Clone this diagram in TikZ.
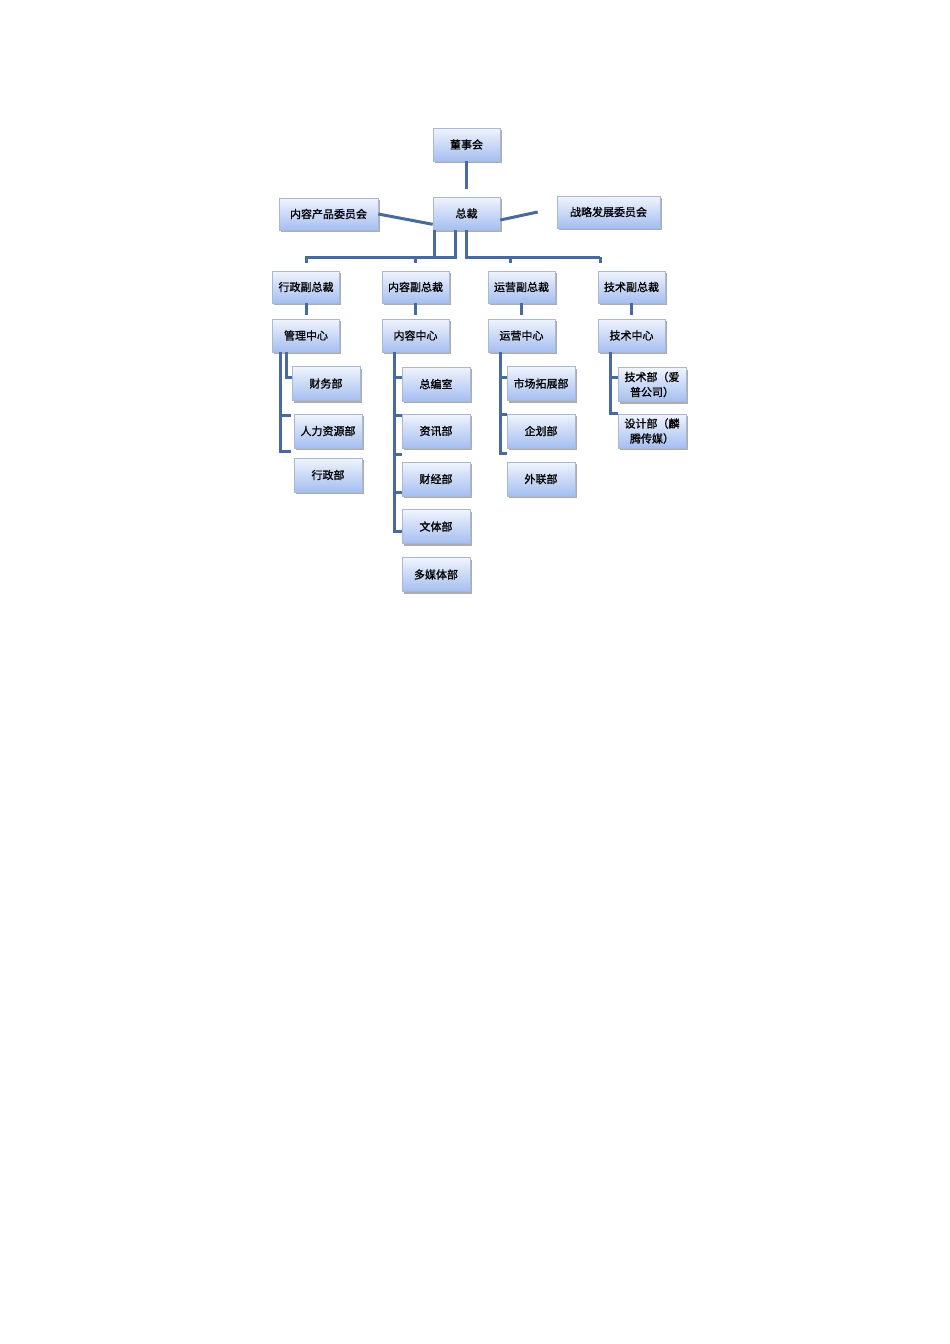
\documentclass[tikz,border=0pt]{standalone}
\usepackage{fontspec}
\setmainfont{Noto Sans CJK SC}[BoldFont=Noto Sans CJK SC, BoldFeatures={FakeBold=1.2}]
\usetikzlibrary{shadows}
\definecolor{boxtop}{RGB}{240,244,253}
\definecolor{boxbottom}{RGB}{165,190,240}
\definecolor{boxline}{RGB}{170,185,210}
\definecolor{linkblue}{RGB}{72,106,156}
\begin{document}
\begin{tikzpicture}[x=1pt,y=-1pt,
	box/.style={draw=boxline, line width=0.6pt, top color=boxtop, bottom color=boxbottom,
		minimum width=67pt, minimum height=33pt, inner sep=1pt, align=center,
		font=\fontsize{11}{15}\selectfont\bfseries,
		drop shadow={shadow xshift=1.5pt, shadow yshift=-2pt, fill=black!40, opacity=.8}},
	link/.style={draw=linkblue, line width=3pt}]
	\useasboundingbox (0,0) rectangle (950,1344);

	\node[box] (dsh) at (466.5,144.5){董事会};
	\node[box] (zc) at (466.5,213.5){总裁};
	\node[box, minimum width=99pt, minimum height=32pt] (nrwh) at (328.5,214){内容产品委员会};
	\node[box, minimum width=103pt, minimum height=32pt] (zlwh) at (608.5,212){战略发展委员会};

	\draw[link, shorten >=8pt] (dsh) -- (zc);
	\draw[link] (nrwh.east) -- ([yshift=6pt]zc.south west);
	\draw[link] ([yshift=-6.5pt]zc.east) -- ([xshift=-19pt]zlwh.west);

	\coordinate (busl) at (305,257);
	\coordinate (busr) at (600,257);
	\draw[link] ([xshift=-32pt]zc.south) |- (busl);
	\draw[link] ([xshift=-11pt]zc.south) |- (busl);
	\draw[link] (zc.south) |- (busr);

	\foreach \vp/\ct/\x/\vptext/\cttext in {vpxz/glzx/306/行政副总裁/管理中心,vpnr/nrzx/415.5/内容副总裁/内容中心,vpyy/yyzx/521.5/运营副总裁/运营中心,vpjs/jszx/631.5/技术副总裁/技术中心}
	{
		\node[box, minimum height=32pt] (\vp) at (\x,287){\vptext};
		\node[box] (\ct) at (\x,335.5){\cttext};
		\draw[link, shorten >=4pt] (\vp) -- (\ct);
	}
	\foreach \vp/\s in {vpxz/0,vpnr/0,vpyy/-11,vpjs/-31}
	{
		\draw[link] ([xshift=\s pt]\vp.north |- busl) -- ++(0,6);
	}

	\foreach \sub/\x/\y/\subtext in {gl1/326/383.5/财务部,gl2/328/431/人力资源部,gl3/328/475/行政部,
		nr1/436/384/总编室,nr2/436/431/资讯部,nr3/436/479/财经部,nr4/436/526.5/文体部,nr5/436/574.5/多媒体部,
		yy1/541/383.5/市场拓展部,yy2/541/431/企划部,yy3/541/479/外联部,
		js1/652/384.5/{技术部（爱\\普公司）},js2/652/431/{设计部（麟\\腾传媒）}}
	{
		\node[box, minimum width=68pt, minimum height=34pt] (\sub) at (\x,\y){\subtext};
	}

	\foreach \ct/\s/\sub/\dx/\dy in {glzx/-20/gl1/0/6,glzx/-26/gl2/-3/16,glzx/-26/gl3/-3/24,
		nrzx/-21.5/nr1/0/7,nrzx/-21.5/nr2/0/16,nrzx/-21.5/nr3/0/25,nrzx/-21.5/nr4/0/34.5,nrzx/-21.5/nr5/0/43.5,
		yyzx/-21.5/yy1/0/6.5,yyzx/-21.5/yy2/0/17,yyzx/-21.5/yy3/0/26,
		jszx/-21.5/js1/0/7.5,jszx/-21.5/js2/0/18}
	{
		\draw[link] ([xshift=\s pt]\ct.south) |- ([xshift=\dx pt,yshift=\dy pt]\sub.west);
	}
\end{tikzpicture}
\end{document}
